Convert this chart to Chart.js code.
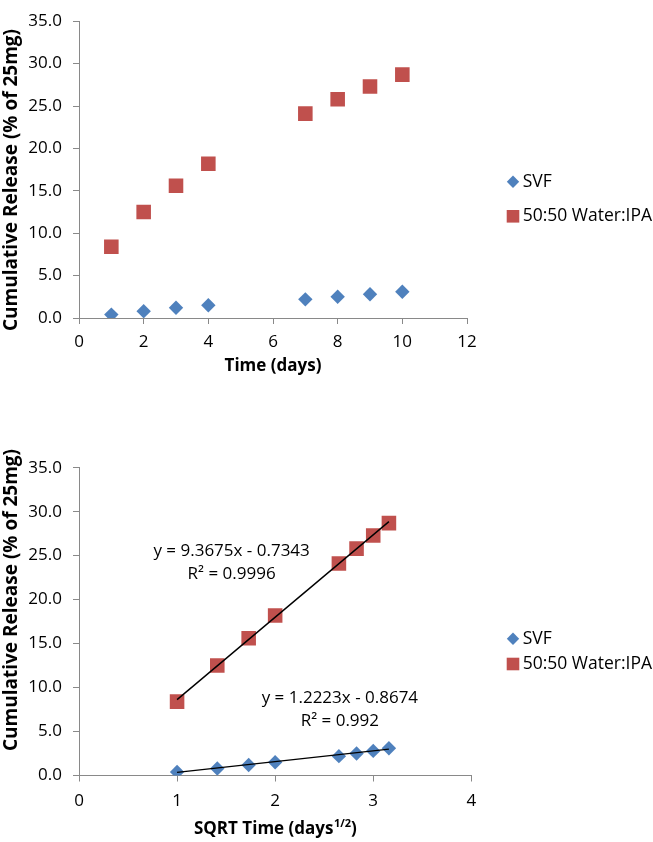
<!DOCTYPE html>
<html>
<head>
<meta charset="utf-8">
<script src="https://cdn.jsdelivr.net/npm/chart.js@4.4.1/dist/chart.umd.min.js"></script>
<style>
  html, body { margin: 0; padding: 0; background: #fff; }
  #wrap { position: relative; width: 653px; height: 842px; }
  #topChart { position: absolute; left: 0; top: 0; }
  #sqrtChart { position: absolute; left: 0; top: 420px; }
</style>
</head>
<body>
<div id="wrap">
  <canvas id="topChart" width="653" height="380"></canvas>
  <canvas id="sqrtChart" width="653" height="422"></canvas>
</div>
<script>
// sampling days and the same days as square roots
var days = [1, 2, 3, 4, 7, 8, 9, 10];
var sqrtDays = [1.00, 1.41, 1.73, 2.00, 2.65, 2.83, 3.00, 3.16];
// cumulative release (% of 25mg)
var svf = [0.4, 0.8, 1.2, 1.5, 2.2, 2.5, 2.8, 3.1];
var waterIpa = [8.4, 12.5, 15.6, 18.2, 24.1, 25.8, 27.3, 28.7];
var seriesNames = ['SVF', '50:50 Water:IPA'];
// linear trendlines on the sqrt plot (end points)
var trendX = [1.00, 3.16];
var svfTrend = [0.36, 3.00];
var waterTrend = [8.63, 28.87];
var svfEq = ['y = 1.2223x - 0.8674', 'R\u00b2 = 0.992'];
var waterEq = ['y = 9.3675x - 0.7343', 'R\u00b2 = 0.9996'];

var blue = '#4F81BD';
var red = '#C0504D';
var axisGray = '#898989';
var FONT = '"Open Sans", "DejaVu Sans", sans-serif';

function pairs(xs, ys) {
  return xs.map(function(x, i) { return { x: x, y: ys[i] }; });
}

function seriesSets(xs) {
  return [{
    label: seriesNames[0],
    data: pairs(xs, svf),
    pointStyle: 'rectRot',
    pointRadius: 7.2,
    pointBorderWidth: 0,
    backgroundColor: blue,
    borderColor: blue,
    order: 1
  }, {
    label: seriesNames[1],
    data: pairs(xs, waterIpa),
    pointStyle: 'rect',
    pointRadius: 10.3,
    pointBorderWidth: 0,
    backgroundColor: red,
    borderColor: red,
    order: 1
  }];
}

function trendSet(ys) {
  return {
    label: '',
    trend: true,
    data: pairs(trendX, ys),
    showLine: true,
    pointRadius: 0,
    borderColor: '#000',
    borderWidth: 1.4,
    order: 0
  };
}

// legend, y title, trendline equations and the superscript x title
function extras(cfg) {
  return {
    id: 'extras',
    afterDraw: function(chart) {
      var ctx = chart.ctx;
      var xs = chart.scales.x, ys = chart.scales.y;
      ctx.save();
      ctx.fillStyle = '#000';
      ctx.textBaseline = 'middle';

      ctx.save();
      ctx.translate(11.5, 180);
      ctx.rotate(-Math.PI / 2);
      ctx.font = 'bold 19px ' + FONT;
      ctx.textAlign = 'center';
      ctx.fillText('Cumulative Release (% of 25mg)', 0, 0);
      ctx.restore();

      // legend
      var k = 0;
      chart.data.datasets.forEach(function(ds) {
        if (ds.trend) return;
        var y = cfg.legendY[k++];
        var cx = 513;
        ctx.fillStyle = ds.backgroundColor;
        ctx.beginPath();
        if (ds.pointStyle === 'rectRot') {
          ctx.moveTo(cx, y - 6.2); ctx.lineTo(cx + 6.2, y);
          ctx.lineTo(cx, y + 6.2); ctx.lineTo(cx - 6.2, y);
          ctx.closePath();
        } else {
          ctx.rect(cx - 6.3, y - 6.3, 12.6, 12.6);
        }
        ctx.fill();
        ctx.fillStyle = '#000';
        ctx.font = '17.5px ' + FONT;
        ctx.textAlign = 'left';
        ctx.fillText(ds.label, 522.7, y);
      });

      // trendline labels
      if (cfg.eqs) {
        ctx.font = '17px ' + FONT;
        ctx.textAlign = 'center';
        cfg.eqs.forEach(function(e) {
          var px = xs.getPixelForValue(e.x);
          ctx.fillText(e.lines[0], px, ys.getPixelForValue(e.y[0]));
          ctx.fillText(e.lines[1], px, ys.getPixelForValue(e.y[1]));
        });
      }

      // x title with superscript
      if (cfg.supTitle) {
        var t = cfg.supTitle;
        ctx.textAlign = 'left';
        ctx.font = 'bold 17px ' + FONT;
        var wa = ctx.measureText(t[0]).width;
        var wc = ctx.measureText(t[2]).width;
        ctx.font = 'bold 11px ' + FONT;
        var wb = ctx.measureText(t[1]).width;
        var x0 = (xs.left + xs.right) / 2 - (wa + wb + wc) / 2;
        var ty = cfg.supTitleY;
        ctx.font = 'bold 17px ' + FONT;
        ctx.fillText(t[0], x0, ty);
        ctx.fillText(t[2], x0 + wa + wb + 0.5, ty);
        ctx.font = 'bold 11px ' + FONT;
        ctx.fillText(t[1], x0 + wa + 0.5, ty - 5.5);
      }
      ctx.restore();
    }
  };
}

function makeOptions(o) {
  return {
    responsive: false,
    devicePixelRatio: 1,
    animation: false,
    layout: { padding: o.padding },
    plugins: { legend: { display: false }, tooltip: { enabled: false } },
    scales: {
      x: {
        type: 'linear',
        min: 0,
        max: o.xMax,
        ticks: { stepSize: o.xStep, padding: o.xTickPad, maxRotation: 0, color: '#000', font: { family: FONT, size: 17 } },
        grid: { drawOnChartArea: false, drawTicks: true, tickLength: 6, color: axisGray },
        border: { color: axisGray, width: 1 },
        title: {
          display: !!o.xTitle,
          text: o.xTitle || '',
          color: '#000',
          padding: 0,
          font: { family: FONT, size: 17, weight: 'bold' }
        },
        afterFit: function(s) { s.height = o.xHeight; }
      },
      y: {
        type: 'linear',
        min: 0,
        max: 35,
        ticks: {
          stepSize: 5,
          padding: 11,
          color: '#000',
          font: { family: FONT, size: 17 },
          callback: function(v) { return v.toFixed(1); }
        },
        grid: { drawOnChartArea: false, drawTicks: true, tickLength: 6, color: axisGray },
        border: { color: axisGray, width: 1 },
        afterFit: function(s) { s.width = 79; }
      }
    }
  };
}

// release vs time
new Chart(document.getElementById('topChart'), {
  type: 'scatter',
  data: { datasets: seriesSets(days) },
  options: makeOptions({
    padding: { top: 10, left: 0, right: 186, bottom: 4 },
    xMax: 12, xStep: 2, xTickPad: 8, xHeight: 58,
    xTitle: 'Time (days)'
  }),
  plugins: [extras({ legendY: [181.7, 216.3] })]
});

// release vs sqrt time, with trendlines
new Chart(document.getElementById('sqrtChart'), {
  type: 'scatter',
  data: { datasets: [trendSet(svfTrend), trendSet(waterTrend)].concat(seriesSets(sqrtDays)) },
  options: makeOptions({
    padding: { top: 47.7, left: 0, right: 181.7, bottom: 2 },
    xMax: 4, xStep: 1, xTickPad: 9, xHeight: 64.5
  }),
  plugins: [extras({
    legendY: [218.7, 244],
    eqs: [
      { x: 1.556, y: [25.5, 22.9], lines: waterEq },
      { x: 2.66, y: [8.8, 6.2], lines: svfEq }
    ],
    supTitle: ['SQRT Time (days', '1/2', ')'],
    supTitleY: 409.5
  })]
});
</script>
</body>
</html>
